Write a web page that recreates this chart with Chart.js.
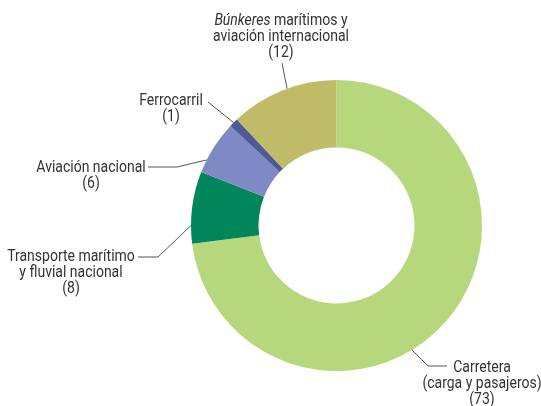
<!DOCTYPE html>
<html>
<head>
<meta charset="utf-8">
<script src="https://cdn.jsdelivr.net/npm/chart.js@4/dist/chart.umd.min.js"></script>
<style>
  html, body { margin: 0; padding: 0; background: #fff; }
  #wrap { width: 541px; height: 406px; }
</style>
</head>
<body>
<div id="wrap"><canvas id="transportChart" width="541" height="406"></canvas></div>
<script>
// shares by mode (%)
const categories = ['Carretera', 'Transporte marítimo y fluvial nacional', 'Aviación nacional', 'Ferrocarril', 'Búnkeres marítimos y aviación internacional'];
const shares = [73, 8, 6, 1, 12];
const sliceColors = ['#b7d77c', '#00865a', '#7f89c6', '#4d5a96', '#c0bb66'];

// label lines, one entry per slice (same order)
const labelLines = [
    ['Carretera', '(carga y pasajeros)', '(73)'],
    ['Transporte marítimo', 'y fluvial nacional', '(8)'],
    ['Aviación nacional', '(6)'],
    ['Ferrocarril', '(1)'],
    ['*Búnkeres* marítimos y', 'aviación internacional', '(12)']
];

// where the leader touches the slice (fraction along the arc), elbow, line end, text
const labelLayout = [
    { frac: 0.566, pts: [[428, 366], [447, 366]], tx: 482, ty: 372 },
    { frac: 0.25, pts: [[158, 257], [138, 257]], tx: 71, ty: 261 },
    { frac: 0.24, pts: [[177, 167], [148, 167]], tx: 91, ty: 172 },
    { frac: 0.5, pts: [[208, 102]], tx: 171, ty: 105 },
    { frac: 0.54, pts: [[282, 63]], tx: 281, ty: 25 }
];

const FONT = '"Roboto", "Liberation Sans Narrow", sans-serif';
const FONT_SIZE = 16;
const SQUEEZE = 0.875; // condensed look
const LINE_H = 16;

// draw text squeezed horizontally, left aligned at x
function drawSqueezed(ctx, text, x, y) {
    ctx.save();
    ctx.translate(x, y);
    ctx.scale(SQUEEZE, 1);
    ctx.textAlign = 'left';
    ctx.fillText(text, 0, 0);
    ctx.restore();
}

const labelPlugin = {
    id: 'leaderLabels',
    afterDraw: (chart) => {
        const ctx = chart.ctx;
        const meta = chart.getDatasetMeta(0);
        const normal = FONT_SIZE + 'px ' + FONT;
        const italic = 'italic ' + FONT_SIZE + 'px ' + FONT;
        ctx.save();
        meta.data.forEach((arc, i) => {
            const p = arc.getProps(['x', 'y', 'startAngle', 'endAngle', 'outerRadius'], true);
            const lay = labelLayout[i];
            const a = p.startAngle + lay.frac * (p.endAngle - p.startAngle);
            const ax = p.x + Math.cos(a) * p.outerRadius;
            const ay = p.y + Math.sin(a) * p.outerRadius;

            ctx.strokeStyle = '#555';
            ctx.lineWidth = 1;
            ctx.beginPath();
            ctx.moveTo(ax, ay);
            lay.pts.forEach(pt => ctx.lineTo(pt[0], pt[1]));
            ctx.stroke();

            ctx.fillStyle = '#333';
            ctx.textBaseline = 'alphabetic';
            labelLines[i].forEach((line, j) => {
                const y = lay.ty + j * LINE_H;
                const m = line.match(/^\*(.+?)\*(.*)$/);
                if (m) {
                    // italic first word
                    ctx.font = italic;
                    const w1 = ctx.measureText(m[1]).width * SQUEEZE;
                    ctx.font = normal;
                    const w2 = ctx.measureText(m[2]).width * SQUEEZE;
                    const x0 = lay.tx - (w1 + w2) / 2;
                    ctx.font = italic;
                    drawSqueezed(ctx, m[1], x0, y);
                    ctx.font = normal;
                    drawSqueezed(ctx, m[2], x0 + w1, y);
                } else {
                    ctx.font = normal;
                    const w = ctx.measureText(line).width * SQUEEZE;
                    drawSqueezed(ctx, line, lay.tx - w / 2, y);
                }
            });
        });
        ctx.restore();
    }
};

new Chart(document.getElementById('transportChart').getContext('2d'), {
    type: 'doughnut',
    data: {
        labels: categories,
        datasets: [{
            data: shares,
            backgroundColor: sliceColors,
            borderWidth: 0,
            hoverOffset: 0
        }]
    },
    options: {
        responsive: false,
        animation: false,
        cutout: '53.6%',
        layout: { padding: { left: 191, right: 59, top: 80, bottom: 35 } },
        events: [],
        plugins: {
            legend: { display: false },
            tooltip: { enabled: false }
        }
    },
    plugins: [labelPlugin]
});
</script>
</body>
</html>
